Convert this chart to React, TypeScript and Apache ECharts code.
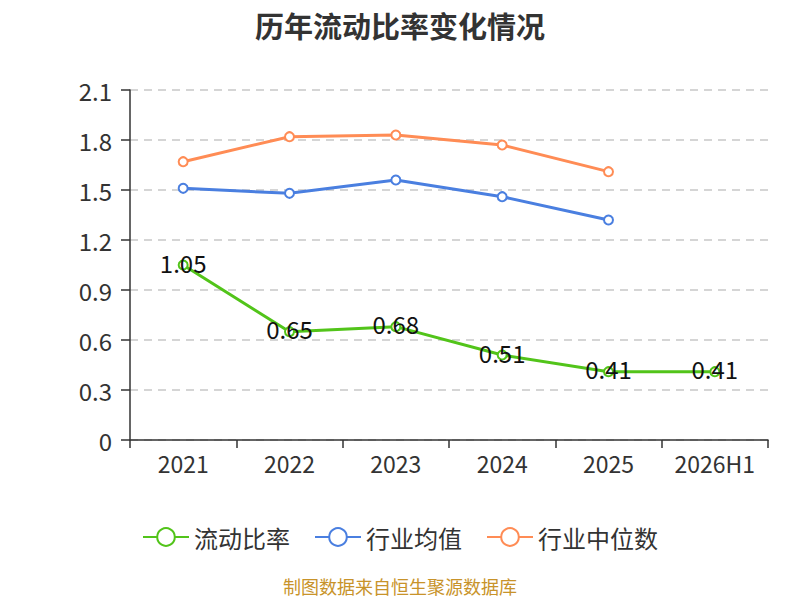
import React, { useEffect, useRef } from "react";
import * as echarts from "echarts";

const categories = ["2021", "2022", "2023", "2024", "2025", "2026H1"];
const currentRatio = [1.05, 0.65, 0.68, 0.51, 0.41, 0.41];
const industryMean = [1.51, 1.48, 1.56, 1.46, 1.32];
const industryMedian = [1.67, 1.82, 1.83, 1.77, 1.61];
const seriesNames = ["流动比率", "行业均值", "行业中位数"];
const colors = ["#52c41a", "#4a7fe0", "#ff8c55"];

const FONT = "'Noto Sans CJK SC', 'Noto Sans', sans-serif";

export default function App() {
  const ref = useRef<HTMLDivElement>(null);
  useEffect(() => {
    if (!ref.current) return;
    const chart = echarts.init(ref.current, undefined, { renderer: "svg" });
    const lineSeries = (name: string, data: number[], color: string, withLabel: boolean) => ({
      name,
      type: "line",
      data,
      symbol: "emptyCircle",
      symbolSize: 9,
      lineStyle: { width: 3, color },
      itemStyle: { color, borderWidth: 2 },
      label: withLabel
        ? {
            show: true,
            position: "inside",
            offset: [0, -3],
            fontSize: 24,
            color: "#111",
            fontFamily: FONT,
          }
        : { show: false },
      z: withLabel ? 3 : 2,
    });
    chart.setOption({
      animation: false,
      backgroundColor: "#fff",
      textStyle: { fontFamily: FONT },
      title: {
        text: "历年流动比率变化情况",
        left: "center",
        top: 5,
        textStyle: { fontSize: 29, fontWeight: "bold", color: "#333", fontFamily: FONT },
      },
      color: colors,
      legend: {
        data: seriesNames,
        bottom: 46,
        left: "center",
        itemWidth: 46,
        itemHeight: 22,
        itemGap: 24,
        textStyle: { fontSize: 24, color: "#333", fontFamily: FONT },
      },
      graphic: [
        {
          type: "text",
          left: "center",
          top: 577,
          style: {
            text: "制图数据来自恒生聚源数据库",
            fontSize: 18,
            fill: "#c8932a",
            fontFamily: FONT,
          },
        },
      ],
      grid: { left: 130, right: 32, top: 90, bottom: 160, containLabel: false },
      xAxis: {
        type: "category",
        data: categories,
        boundaryGap: true,
        axisLine: { lineStyle: { color: "#333", width: 1.5 } },
        axisTick: { show: true, interval: 0, length: 8, alignWithLabel: false, lineStyle: { color: "#333", width: 1.5 } },
        axisLabel: { interval: 0, fontSize: 23, color: "#333", margin: 11, fontFamily: FONT },
      },
      yAxis: {
        type: "value",
        min: 0,
        max: 2.1,
        interval: 0.3,
        axisLine: { show: true, lineStyle: { color: "#333", width: 1.5 } },
        axisTick: { show: true, length: 9, lineStyle: { color: "#333", width: 1.5 } },
        axisLabel: { fontSize: 24, color: "#333", margin: 18, fontFamily: FONT },
        splitLine: { show: true, lineStyle: { type: [8, 6], color: "#c8c8c8", width: 1.5 } },
      },
      series: [
        lineSeries(seriesNames[0], currentRatio, colors[0], true),
        lineSeries(seriesNames[1], industryMean, colors[1], false),
        lineSeries(seriesNames[2], industryMedian, colors[2], false),
      ],
    });
    return () => chart.dispose();
  }, []);
  return <div ref={ref} style={{ width: 800, height: 600, position: "absolute", left: 0, top: 0 }} />;
}
